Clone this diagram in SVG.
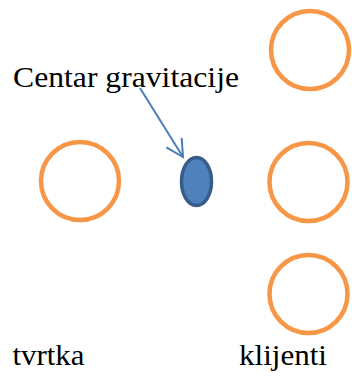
<svg xmlns="http://www.w3.org/2000/svg" width="352" height="376" viewBox="0 0 352 376">
<style>
.c{fill:none;stroke:#f79646;stroke-width:4.5}
.t{font-family:'Liberation Serif','Times New Roman',serif;font-size:29.5px;fill:#000}
</style>
<defs>
<marker id="ah" markerWidth="22" markerHeight="24" refX="18" refY="11" orient="auto" markerUnits="userSpaceOnUse">
<path d="M1,2 L18,11 L1,20" fill="none" stroke="#4a7ebb" stroke-width="2"/>
</marker>
</defs>
<rect width="352" height="376" fill="#fff"/>
<g id="tvrtka-node"><circle class="c" cx="80" cy="181" r="39"/></g>
<g id="klijent1"><circle class="c" cx="310" cy="50" r="39"/></g>
<g id="klijent2"><circle class="c" cx="308.5" cy="182" r="39"/></g>
<g id="klijent3"><circle class="c" cx="308.5" cy="294" r="39"/></g>
<g id="centar"><ellipse cx="196.5" cy="181.5" rx="15" ry="24" fill="#4f81bd" stroke="#385d8a" stroke-width="3.5"/></g>
<g id="connectors"><line x1="140" y1="88" x2="183" y2="157" stroke="#4a7ebb" stroke-width="2" marker-end="url(#ah)"/></g>
<g id="labels">
<text class="t" x="13" y="86.5" textLength="226" lengthAdjust="spacingAndGlyphs">Centar gravitacije</text>
<text class="t" x="12.5" y="364.5" textLength="72" lengthAdjust="spacingAndGlyphs">tvrtka</text>
<text class="t" x="239" y="364.5" textLength="88" lengthAdjust="spacingAndGlyphs">klijenti</text>
</g>
</svg>
